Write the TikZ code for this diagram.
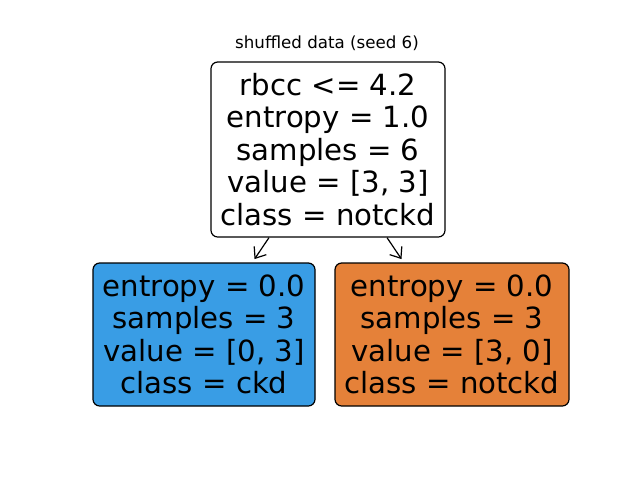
\documentclass[tikz,border=0pt]{standalone}
\usepackage{fontspec}
\setmainfont{DejaVu Sans}
\usetikzlibrary{arrows.meta}
\definecolor{leafblue}{RGB}{57,157,229}
\definecolor{leaforange}{RGB}{229,129,57}

\begin{document}
\begin{tikzpicture}[x=0.75pt,y=0.75pt,yscale=-1,xscale=1,
  treebox/.style={draw=black, line width=0.9pt, rounded corners=5pt, align=center, inner sep=0pt,
    font=\fontsize{21.9}{24.4}\selectfont},
  treearrow/.style={-{Straight Barb[length=7pt,width=11pt]}, line width=0.9pt, shorten >=3pt}]
\useasboundingbox (0,0) rectangle (640,480);
\node (title) at (327,43) [font=\fontsize{12.5}{15}\selectfont] {shuffled data (seed 6)};
\node (root) at (328,149.5) [treebox, fill=white, minimum width=175.5pt, minimum height=131.25pt] {rbcc <= 4.2\\entropy = 1.0\\samples = 6\\value = [3, 3]\\class = notckd};
\node (left) at (204,334.5) [treebox, fill=leafblue, minimum width=166.5pt, minimum height=107.25pt] {entropy = 0.0\\samples = 3\\value = [0, 3]\\class = ckd};
\node (right) at (452,334.5) [treebox, fill=leaforange, minimum width=175.5pt, minimum height=107.25pt] {entropy = 0.0\\samples = 3\\value = [3, 0]\\class = notckd};
\draw [treearrow] (root) -- (left) ;
\draw [treearrow] (root) -- (right) ;
\end{tikzpicture}
\end{document}
